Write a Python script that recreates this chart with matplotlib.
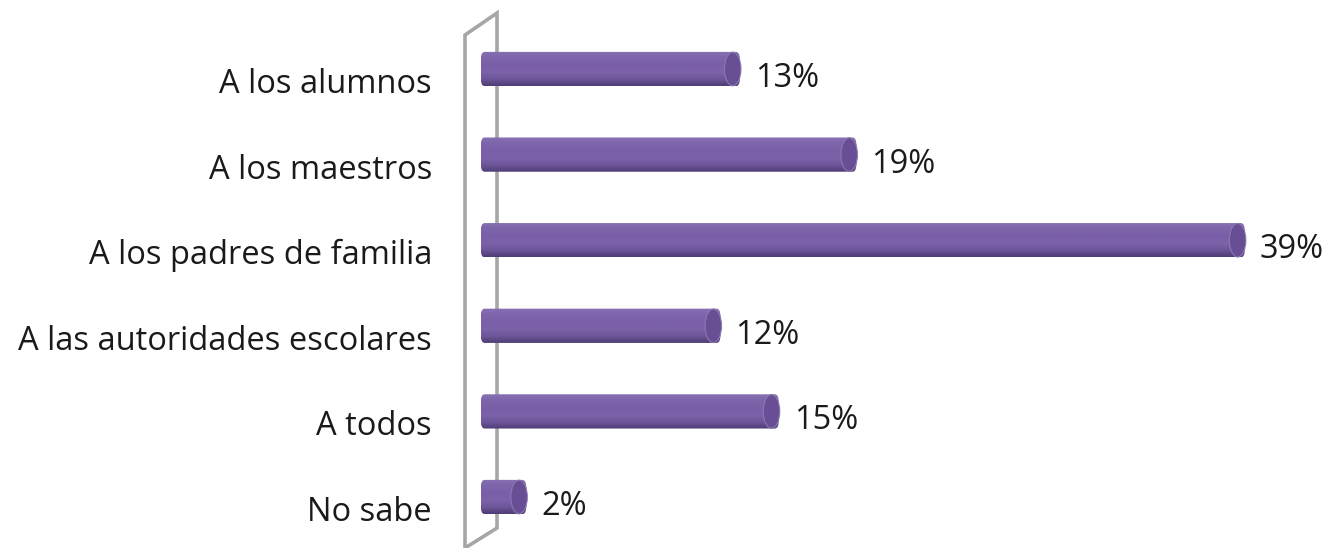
import numpy as np
import matplotlib
matplotlib.use("Agg")
import matplotlib.pyplot as plt
from matplotlib.patches import Polygon, Ellipse, FancyBboxPatch
from matplotlib.colors import LinearSegmentedColormap

categories = ["A los alumnos", "A los maestros", "A los padres de familia",
              "A las autoridades escolares", "A todos", "No sabe"]
values = [13, 19, 39, 12, 15, 2]
value_labels = ["13%", "19%", "39%", "12%", "15%", "2%"]

plt.rcParams['font.family'] = ['Open Sans', 'DejaVu Sans']

W, H = 1326, 548
fig = plt.figure(figsize=(W / 100, H / 100), dpi=100)
ax = fig.add_axes([0, 0, 1, 1])

# layout in pixels -> data units
x0_px, px_per_unit = 487.5, 19.42
y0_px, row_px = 69, 85.6
ax.set_xlim(-x0_px / px_per_unit, (W - x0_px) / px_per_unit)
ax.set_ylim((H - y0_px) / row_px, -y0_px / row_px)
ax.axis('off')

def px(x):
    return (x - x0_px) / px_per_unit

def py(y):
    return (y - y0_px) / row_px

# back wall (thin 3d panel)
wall = Polygon([(px(465), py(35)), (px(497), py(13)), (px(497), py(528)), (px(465), py(548))],
               closed=True, fill=False, edgecolor='#a6a6a6', linewidth=2.6)
ax.add_patch(wall)

cmap = LinearSegmentedColormap.from_list(
    'cyl', ['#8670b2', '#7d64ab', '#7a5fa8', '#7c62aa', '#6e569a', '#4f3d75'])
bar_h = 0.40
cap_w = 0.85
grad = np.linspace(0, 1, 100).reshape(-1, 1)

for i, (v, lab) in enumerate(zip(values, value_labels)):
    left = -0.35
    body = FancyBboxPatch((left, i - bar_h / 2), v - left, bar_h,
                          boxstyle="round,pad=0,rounding_size=0.2",
                          mutation_aspect=bar_h / 0.8,
                          facecolor='none', edgecolor='none')
    ax.add_patch(body)
    im = ax.imshow(grad, cmap=cmap, aspect='auto', zorder=2,
                   extent=(left, v, i + bar_h / 2, i - bar_h / 2))
    im.set_clip_path(body)
    cap = Ellipse((v - cap_w / 2 + 0.05, i), cap_w, bar_h * 0.98,
                  facecolor='#684f95', edgecolor='#8a78b0', linewidth=0.8, zorder=3)
    ax.add_patch(cap)
    ax.text(v + 0.77, i + 0.21, lab, ha='left', va='baseline', fontsize=23.5, color='#1a1a1a')
    ax.text(px(432), i + 0.28, categories[i], ha='right', va='baseline', fontsize=23.5, color='#1a1a1a')

fig.savefig('out.png', dpi=100)
